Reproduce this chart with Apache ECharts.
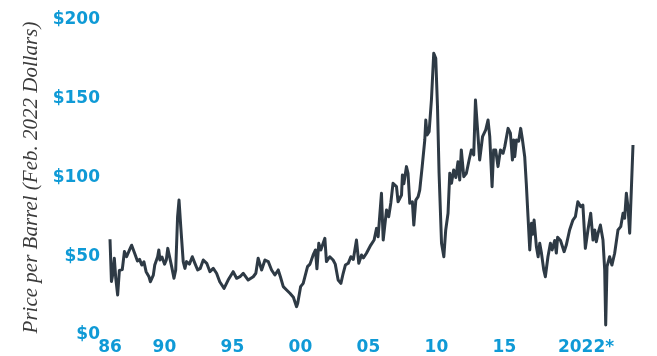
<!DOCTYPE html>
<html>
<head>
<meta charset="utf-8">
<script src="https://cdn.jsdelivr.net/npm/echarts@6/dist/echarts.min.js"></script>
<style>
  html, body { margin: 0; padding: 0; background: #ffffff; }
  #chart { width: 657px; height: 356px; }
</style>
</head>
<body>
<div id="chart"></div>
<script>
// Oil price per barrel, Feb. 2022 dollars; dates are decimal years
const dates = [
  1986.00, 1986.10, 1986.18, 1986.30, 1986.40, 1986.53, 1986.65, 1986.85, 1987.00, 1987.15,
  1987.35, 1987.50, 1987.70, 1987.90, 1988.05, 1988.20, 1988.35, 1988.50, 1988.70, 1988.80,
  1989.00, 1989.10, 1989.30, 1989.38, 1989.46, 1989.60, 1989.70, 1989.78, 1989.90, 1990.00,
  1990.10, 1990.27, 1990.43, 1990.55, 1990.68, 1990.78, 1990.90, 1991.07, 1991.19, 1991.30,
  1991.50, 1991.70, 1991.88, 1992.07, 1992.25, 1992.46, 1992.70, 1992.92, 1993.15, 1993.38,
  1993.60, 1993.90, 1994.18, 1994.53, 1994.77, 1995.00, 1995.23, 1995.57, 1995.92, 1996.10,
  1996.26, 1996.50, 1996.73, 1996.96, 1997.19, 1997.42, 1997.65, 1997.80, 1998.00, 1998.23,
  1998.46, 1998.70, 1998.92, 1999.00, 1999.20, 1999.38, 1999.68, 1999.85, 2000.07, 2000.23,
  2000.33, 2000.46, 2000.60, 2000.88, 2000.99, 2001.22, 2001.45, 2001.60, 2001.80, 2001.99,
  2002.15, 2002.30, 2002.50, 2002.68, 2002.85, 2003.07, 2003.23, 2003.42, 2003.55, 2003.76,
  2004.06, 2004.29, 2004.46, 2004.57, 2004.80, 2004.92, 2005.15, 2005.30, 2005.45, 2005.60,
  2005.84, 2005.95, 2006.19, 2006.25, 2006.35, 2006.53, 2006.64, 2006.76, 2006.94, 2007.04,
  2007.18, 2007.34, 2007.45, 2007.62, 2007.80, 2007.87, 2007.96, 2008.10, 2008.26, 2008.42,
  2008.56, 2008.68, 2008.79, 2008.96, 2009.12, 2009.25, 2009.41, 2009.53, 2009.65, 2009.80,
  2009.95, 2010.10, 2010.22, 2010.33, 2010.50, 2010.68, 2010.87, 2011.03, 2011.19, 2011.31,
  2011.49, 2011.60, 2011.80, 2012.02, 2012.18, 2012.30, 2012.46, 2012.57, 2012.71, 2012.87,
  2013.04, 2013.22, 2013.34, 2013.57, 2013.73, 2013.87, 2013.96, 2014.03, 2014.15, 2014.30,
  2014.44, 2014.55, 2014.72, 2014.83, 2014.95, 2015.07, 2015.19, 2015.28, 2015.37, 2015.53,
  2015.65, 2015.76, 2015.88, 2016.04, 2016.15, 2016.33, 2016.50, 2016.62, 2016.80, 2016.91,
  2017.00, 2017.20, 2017.30, 2017.45, 2017.60, 2017.83, 2018.06, 2018.23, 2018.40, 2018.60,
  2018.75, 2018.92, 2019.10, 2019.29, 2019.45, 2019.57, 2019.68, 2019.80, 2019.96, 2020.14,
  2020.26, 2020.33, 2020.42, 2020.60, 2020.76, 2020.95, 2021.18, 2021.37, 2021.53, 2021.64,
  2021.76, 2021.87, 2021.99, 2022.10, 2022.22
];
const prices = [
  60.8, 34.0, 38.0, 48.7, 36.0, 25.4, 41.0, 41.5, 53.0, 49.7,
  54.0, 57.0, 52.0, 47.0, 48.0, 44.4, 46.5, 40.2, 37.0, 33.8,
  38.0, 44.4, 49.7, 54.0, 47.6, 49.5, 48.7, 45.0, 47.6, 55.0,
  50.8, 43.4, 36.0, 41.3, 75.0, 85.7, 68.8, 46.6, 42.3, 46.6,
  45.0, 49.7, 45.5, 41.3, 42.3, 47.6, 45.5, 40.2, 42.3, 39.2,
  33.8, 29.6, 34.9, 40.2, 36.0, 37.0, 39.2, 34.9, 37.0, 39.2,
  48.7, 41.3, 47.6, 46.6, 41.3, 38.1, 41.3, 37.0, 30.7, 28.6,
  26.5, 24.0, 18.0, 20.1, 30.7, 32.8, 43.4, 45.0, 50.8, 54.0,
  42.0, 58.2, 54.0, 61.4, 46.6, 49.7, 47.6, 45.0, 34.9, 32.8,
  39.2, 44.4, 45.5, 49.7, 48.0, 60.3, 45.5, 50.8, 49.0, 51.9,
  57.1, 60.3, 67.7, 62.4, 90.0, 60.3, 79.4, 75.1, 84.0, 96.3,
  94.2, 84.6, 88.9, 101.6, 96.0, 106.9, 102.7, 83.6, 84.6, 69.8,
  85.7, 87.8, 92.0, 106.9, 123.8, 136.5, 127.0, 129.1, 149.2, 178.9,
  175.7, 145.0, 102.7, 58.2, 49.7, 66.7, 77.3, 102.7, 96.3, 104.8,
  100.0, 110.0, 98.4, 117.5, 100.5, 102.7, 111.1, 117.5, 114.3, 149.2,
  125.9, 111.1, 125.9, 130.2, 136.5, 125.9, 94.2, 117.5, 117.5, 106.9,
  117.5, 115.4, 119.6, 131.2, 128.1, 111.1, 123.8, 113.2, 123.8, 123.0,
  131.2, 124.9, 113.2, 96.3, 75.1, 54.0, 70.9, 64.0, 73.0, 56.1,
  49.7, 58.2, 52.0, 41.3, 37.0, 49.7, 58.2, 54.0, 60.0, 52.0,
  62.0, 60.0, 60.3, 52.9, 57.1, 66.7, 73.0, 75.1, 84.6, 81.5,
  82.5, 55.0, 66.7, 77.3, 60.3, 66.7, 59.2, 64.6, 69.8, 60.3,
  41.3, 6.3, 43.4, 49.7, 44.4, 51.9, 66.7, 68.8, 77.3, 74.1,
  90.0, 81.5, 64.6, 91.0, 120.6
];

// Year labels along the bottom and where they sit on the label scale
const tickYears = [1986, 1990, 1995, 2000, 2005, 2010, 2015, 2021];
const tickText = ['86', '90', '95', '00', '05', '10', '15', '2022*'];

const yTicks = [0, 50, 100, 150, 200];

const BLUE = '#0f9ad6';
const INK = '#2e3a45';

const chart = echarts.init(document.getElementById('chart'), null, { renderer: 'canvas' });

const seriesData = dates.map((d, i) => [d, prices[i]]);

chart.setOption({
  animation: false,
  backgroundColor: '#ffffff',
  grid: { left: 110, right: 24, top: 20, bottom: 21 },
  xAxis: [
    {
      type: 'value',
      min: dates[0],
      max: dates[dates.length - 1],
      show: false
    },
    {
      type: 'value',
      min: 1986,
      max: 1986 + 523 / 13.6,
      position: 'bottom',
      axisLine: { show: false },
      axisTick: { show: false },
      splitLine: { show: false },
      axisLabel: {
        customValues: tickYears,
        formatter: v => tickText[tickYears.indexOf(Math.round(v))] || '',
        color: BLUE,
        fontFamily: 'DejaVu Sans',
        fontWeight: 'bold',
        fontSize: 17,
        margin: 4
      }
    }
  ],
  yAxis: {
    type: 'value',
    min: yTicks[0],
    max: yTicks[yTicks.length - 1],
    interval: 50,
    name: 'Price per Barrel (Feb. 2022 Dollars)',
    nameLocation: 'middle',
    nameGap: 68,
    nameTextStyle: {
      color: '#3b3b3b',
      fontFamily: 'Liberation Serif',
      fontStyle: 'italic',
      fontSize: 21
    },
    axisLine: { show: false },
    axisTick: { show: false },
    splitLine: { show: false },
    axisLabel: {
      formatter: '${value}',
      color: BLUE,
      fontFamily: 'DejaVu Sans',
      fontWeight: 'bold',
      fontSize: 17,
      margin: 10
    }
  },
  series: [
    {
      type: 'line',
      xAxisIndex: 0,
      data: seriesData,
      showSymbol: false,
      lineStyle: { color: INK, width: 3, join: 'round' }
    }
  ]
});
</script>
</body>
</html>
